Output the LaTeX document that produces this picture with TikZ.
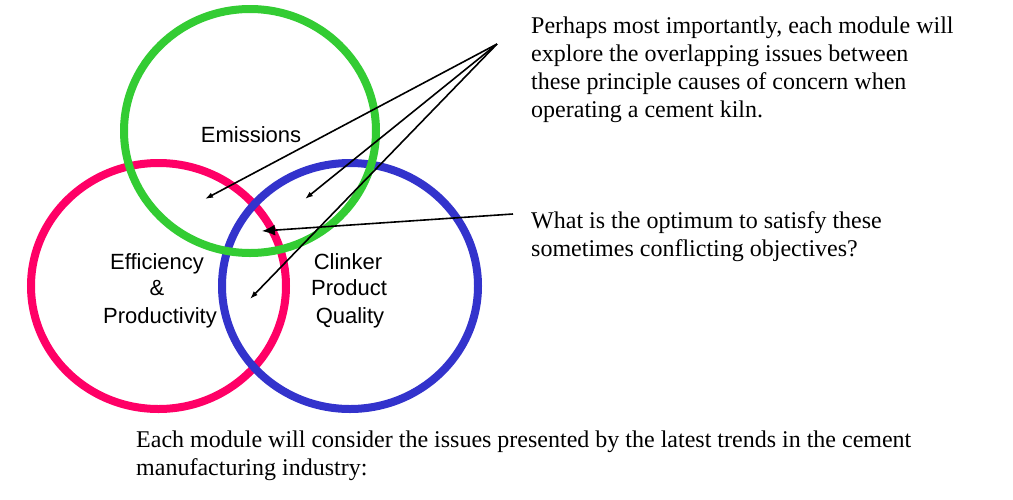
\documentclass[tikz,border=0pt]{standalone}
\usepackage{fontspec}
\setmainfont{Liberation Serif}
\newfontfamily\arialf{Liberation Sans}
\usetikzlibrary{arrows.meta}
\definecolor{cgreen}{HTML}{33CC33}
\definecolor{cred}{HTML}{FF0066}
\definecolor{cblue}{HTML}{3333CC}
\tikzset{
  ring/.style={line width=8pt},
  lbl/.style={font=\arialf\fontsize{22}{26}\selectfont, anchor=base, inner sep=0pt},
  txt/.style={font=\fontsize{24}{28}\selectfont, anchor=base west, inner sep=0pt},
  thinarrow/.style={line width=1.6pt, -{Latex[length=8pt,width=5.5pt]}},
  bigarrow/.style={line width=1.6pt, -{Latex[length=13pt,width=11pt]}}
}
\begin{document}
\begin{tikzpicture}[x=1pt,y=-1pt]
\useasboundingbox[fill=white] (0,0) rectangle (1013,499);
% rings
\draw[ring,cred]  (158.5,286) ellipse [x radius=127.5, y radius=123];
\draw[ring,cblue] (350,286) ellipse [x radius=128, y radius=123];
\draw[ring,cgreen] (250,131) ellipse [x radius=126, y radius=122];
% labels
\node[lbl] (em) at (251,142) {Emissions};
\node[lbl] (ef1) at (157,269) {Efficiency};
\node[lbl] (ef2) at (157,295) {\&};
\node[lbl] (ef3) at (160,323) {Productivity};
\node[lbl] (cl1) at (348,269) {Clinker};
\node[lbl] (cl2) at (349,295) {Product};
\node[lbl] (cl3) at (350,323) {Quality};
% right texts
\node[txt] (p1) at (531,33) {Perhaps most importantly, each module will};
\node[txt] (p2) at (531,61) {explore the overlapping issues between};
\node[txt] (p3) at (531,89) {these principle causes of concern when};
\node[txt] (p4) at (531,117) {operating a cement kiln.};
\node[txt] (w1) at (531,228) {What is the optimum to satisfy these};
\node[txt] (w2) at (531,256) {sometimes conflicting objectives?};
\node[txt] (b1) at (136,447) {Each module will consider the issues presented by the latest trends in the cement};
\node[txt] (b2) at (136,475) {manufacturing industry:};
% arrows
\coordinate (src) at (497,44);
\coordinate (t1) at (205,199);
\coordinate (t2) at (305,199);
\coordinate (t3) at (250,299);
\coordinate (src2) at (513,214);
\coordinate (t4) at (262,231);
\draw[thinarrow] (src) -- (t1);
\draw[thinarrow] (src) -- (t2);
\draw[thinarrow] (src) -- (t3);
\draw[bigarrow] (src2) -- (t4);
\end{tikzpicture}
\end{document}
